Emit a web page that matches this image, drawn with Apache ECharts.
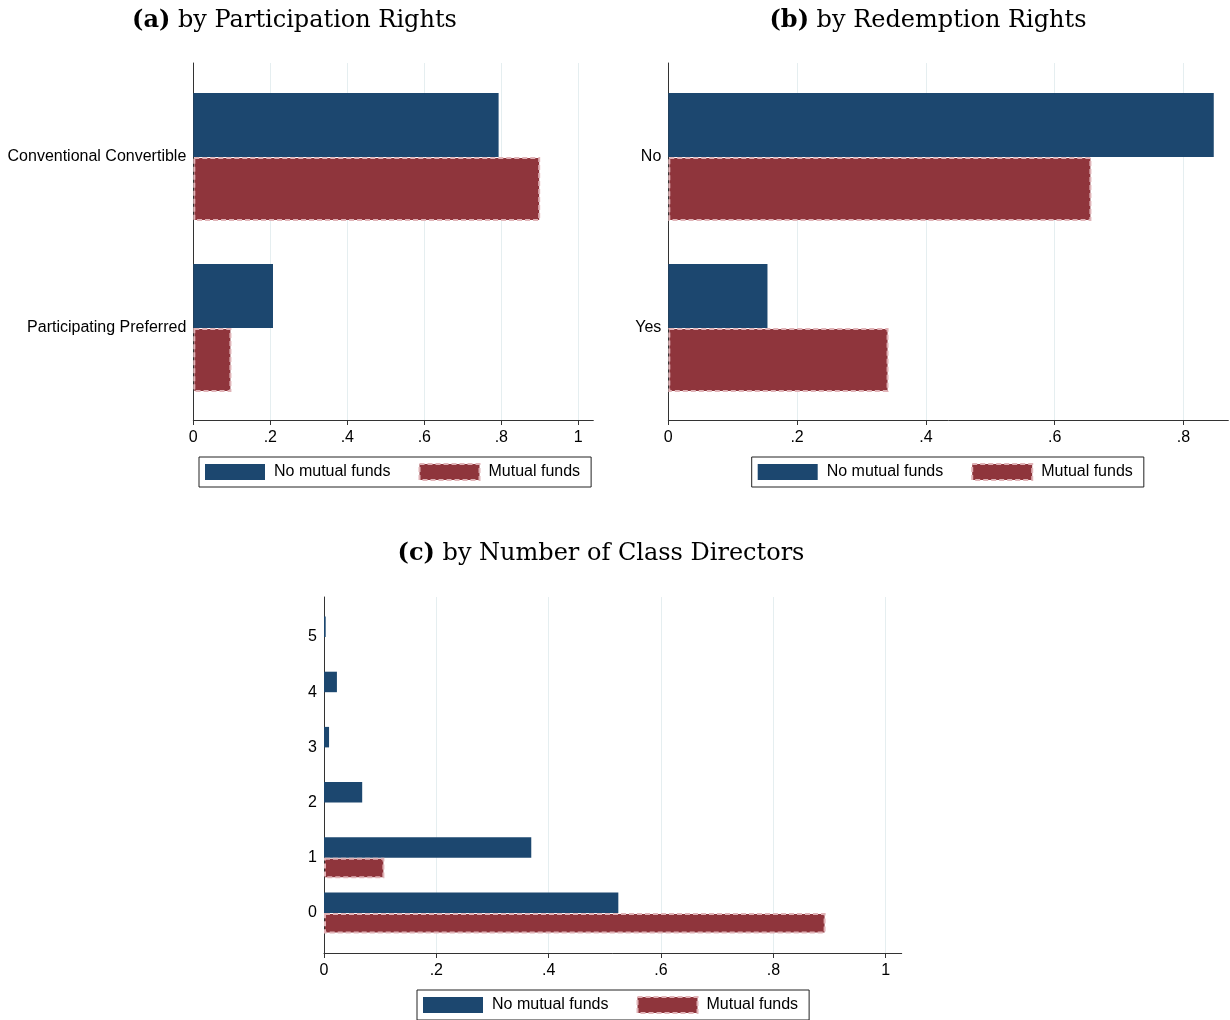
<!DOCTYPE html>
<html>
<head>
<meta charset="utf-8">
<script src="https://cdn.jsdelivr.net/npm/echarts@6/dist/echarts.min.js"></script>
<style>
  html, body { margin: 0; padding: 0; background: #fff; }
  #chart { width: 1230px; height: 1020px; }
</style>
</head>
<body>
<div id="chart"></div>
<script>
// Share of preferred-stock terms, by whether a mutual fund invested

const seriesNames = ['No mutual funds', 'Mutual funds'];

// (a) participation rights
const participationCats = ['Conventional Convertible', 'Participating Preferred'];
const participationNoMF = [0.793, 0.207];
const participationMF = [0.901, 0.099];

// (b) redemption rights
const redemptionCats = ['No', 'Yes'];
const redemptionNoMF = [0.847, 0.154];
const redemptionMF = [0.657, 0.342];

// (c) number of class directors, listed top to bottom
const directorCats = ['5', '4', '3', '2', '1', '0'];
const directorNoMF = [0.003, 0.023, 0.009, 0.068, 0.369, 0.524];
const directorMF = [0, 0, 0, 0, 0.1075, 0.893];

// x-axis ticks
const ticksAC = [0, 0.2, 0.4, 0.6, 0.8, 1];
const ticksB = [0, 0.2, 0.4, 0.6, 0.8];

const BLUE = '#1c476f';
const RED = '#8f353c';
const DASH = '#e0b3b7';
const AXIS = '#333333';
const GRIDLINE = '#e5eef0';
const SANS = '"Liberation Sans", Arial, Helvetica, sans-serif';
const SERIF = '"DejaVu Serif", serif';

function tickLabel(v) {
  if (v === 0) return '0';
  const s = String(Math.round(v * 10) / 10);
  return s.replace(/^0/, '');
}

// each panel: an outer frame (axis lines, ticks, grid lines) and an inner
// band area holding the bars and category labels, sharing the same x scale
const panels = [
  { cats: participationCats, a: participationNoMF, b: participationMF, ticks: ticksAC,
    left: 193.3, top: 63, height: 357, xMax: 1.039, pxPerUnit: 385,
    bandTop: 71.5, bandHeight: 342, barWidth: 64 },
  { cats: redemptionCats, a: redemptionNoMF, b: redemptionMF, ticks: ticksB,
    left: 668.3, top: 63, height: 357, xMax: 0.8696, pxPerUnit: 644,
    bandTop: 71.5, bandHeight: 342, barWidth: 64 },
  { cats: directorCats, a: directorNoMF, b: directorMF, ticks: ticksAC,
    left: 324, top: 597, height: 356, xMax: 1.0285, pxPerUnit: 561.7,
    bandTop: 609.4, bandHeight: 331.2, barWidth: 20.5 }
];

const grid = [], xAxis = [], yAxis = [], series = [];

panels.forEach(function (p, i) {
  const width = p.xMax * p.pxPerUnit;
  const frameIdx = i * 2, bandIdx = i * 2 + 1;

  grid.push({ left: p.left, top: p.top, width: width, height: p.height });
  grid.push({ left: p.left, top: p.bandTop, width: width, height: p.bandHeight });

  xAxis.push({
    gridIndex: frameIdx, type: 'value', min: 0, max: p.xMax, interval: 0.2,
    axisLine: { show: true, onZero: false, lineStyle: { color: AXIS, width: 1 } },
    axisTick: { show: true, length: 5, customValues: p.ticks, lineStyle: { color: AXIS } },
    axisLabel: { customValues: p.ticks, formatter: tickLabel, margin: 10,
      fontFamily: SANS, fontSize: 16, color: '#000' },
    splitLine: { show: true, lineStyle: { color: GRIDLINE, width: 1 } }
  });
  xAxis.push({ gridIndex: bandIdx, type: 'value', min: 0, max: p.xMax, show: false });

  yAxis.push({
    gridIndex: frameIdx, type: 'value', min: 0, max: 1,
    axisLine: { show: true, onZero: false, lineStyle: { color: AXIS, width: 1 } },
    axisTick: { show: false }, axisLabel: { show: false }, splitLine: { show: false }
  });
  yAxis.push({
    gridIndex: bandIdx, type: 'category', data: p.cats, inverse: true,
    axisLine: { show: false }, axisTick: { show: false },
    axisLabel: { margin: 7, fontFamily: SANS, fontSize: 16, color: '#000', padding: [6, 0, 0, 0] },
    splitLine: { show: false }
  });

  series.push({
    name: seriesNames[0], type: 'bar', xAxisIndex: bandIdx, yAxisIndex: bandIdx,
    data: p.a.map(function (v) { return v > 0 ? v : '-'; }),
    barWidth: p.barWidth, barGap: '0%',
    itemStyle: { color: BLUE }, emphasis: { disabled: true }, silent: true
  });
  series.push({
    name: seriesNames[1], type: 'bar', xAxisIndex: bandIdx, yAxisIndex: bandIdx,
    data: p.b.map(function (v) { return v > 0 ? v : '-'; }),
    barWidth: p.barWidth, barGap: '0%',
    itemStyle: { color: RED, borderColor: DASH, borderWidth: 2, borderType: [5, 3] },
    emphasis: { disabled: true }, silent: true
  });
});

function makeLegend(left, top) {
  return {
    left: left, top: top, orient: 'horizontal',
    padding: [6, 11, 6, 6], itemGap: 28, itemWidth: 60, itemHeight: 16,
    borderColor: '#222', borderWidth: 1, backgroundColor: '#fff',
    icon: 'rect', selectedMode: false,
    textStyle: { fontFamily: SANS, fontSize: 16, color: '#000', padding: [5, 0, 0, 4] },
    data: [
      { name: seriesNames[0], itemStyle: { color: BLUE, borderWidth: 0 } },
      { name: seriesNames[1], itemStyle: { color: RED, borderColor: DASH, borderWidth: 2, borderType: [5, 3] } }
    ]
  };
}

function makeTitle(tag, text, x, y) {
  return {
    text: '{b|' + tag + '} ' + text, left: x, top: y, textAlign: 'center', padding: 0,
    textStyle: {
      fontFamily: SERIF, fontSize: 24, fontWeight: 'normal', color: '#000',
      rich: { b: { fontFamily: SERIF, fontSize: 24, fontWeight: 'bold', color: '#000' } }
    }
  };
}

const option = {
  backgroundColor: '#fff',
  animation: false,
  title: [
    makeTitle('(a)', 'by Participation Rights', 294.5, 9),
    makeTitle('(b)', 'by Redemption Rights', 928, 9),
    makeTitle('(c)', 'by Number of Class Directors', 601, 542)
  ],
  legend: [makeLegend(199, 457), makeLegend(751.7, 457), makeLegend(417, 990)],
  grid: grid,
  xAxis: xAxis,
  yAxis: yAxis,
  series: series
};

const chart = echarts.init(document.getElementById('chart'), null, { renderer: 'canvas' });
chart.setOption(option);
</script>
</body>
</html>
